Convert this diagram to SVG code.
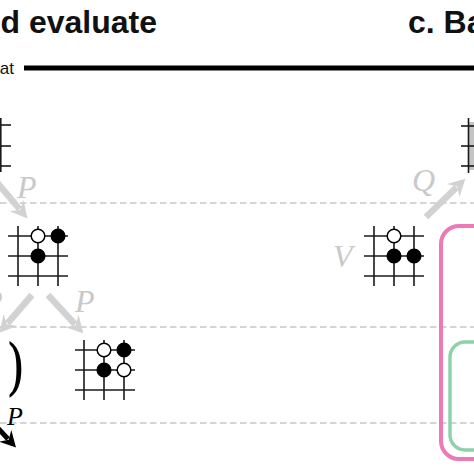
<svg xmlns="http://www.w3.org/2000/svg" width="474" height="474" viewBox="0 0 474 474">
<style>
.title{font-family:"Liberation Sans",Arial,sans-serif;font-weight:bold;font-size:32px;fill:#111}
.small{font-family:"Liberation Sans",Arial,sans-serif;font-size:17px;fill:#111}
.lbl{font-family:"Liberation Serif","Times New Roman",serif;font-style:italic;font-size:32px;fill:#c9c9c9}
.dash{stroke:#c8c8c8;stroke-width:1.5;stroke-dasharray:6.5 3.5;fill:none}
.grid line{stroke:#1a1a1a;stroke-width:1.6}
.b{fill:#000;stroke:#000;stroke-width:1.5}
.w{fill:#fff;stroke:#000;stroke-width:1.5}
.garrow{stroke:#d2d2d2;stroke-width:6.5;fill:none}
.karrow{stroke:#000;stroke-width:5;fill:none}
</style>
<defs>
<marker id="gh" markerUnits="userSpaceOnUse" viewBox="0 0 16 16" markerWidth="18" markerHeight="18" refX="4" refY="8" orient="auto">
<path d="M0,0 L15,8 L0,16 L5,8 z" fill="#d2d2d2"/>
</marker>
<marker id="kh" markerUnits="userSpaceOnUse" viewBox="0 0 16 16" markerWidth="17" markerHeight="17" refX="4" refY="8" orient="auto">
<path d="M0,0 L15,8 L0,16 L5,8 z" fill="#000"/>
</marker>
</defs>

<g id="titles">
<text class="title" x="157" y="33" text-anchor="end">d evaluate</text>
<text class="title" x="408" y="33">c. Ba</text>
<text class="small" x="14" y="74" text-anchor="end">at</text>
<line x1="24" y1="68" x2="474" y2="68" stroke="#000" stroke-width="5"/>
</g>

<g id="guides">
<line class="dash" x1="0" y1="203" x2="474" y2="203"/>
<line class="dash" x1="0" y1="327" x2="474" y2="327"/>
<line class="dash" x1="0" y1="423" x2="474" y2="423"/>
</g>

<g id="board-topleft" class="grid">
<line x1="0" y1="125" x2="11" y2="125"/>
<line x1="0" y1="146" x2="11" y2="146"/>
<line x1="0" y1="166" x2="11" y2="166"/>
<line x1="0.8" y1="118" x2="0.8" y2="172"/>
</g>

<g id="board-topright" class="grid">
<rect x="469" y="122" width="5" height="48" fill="#c4c4c4"/>
<line x1="461" y1="126" x2="474" y2="126"/>
<line x1="461" y1="146" x2="474" y2="146"/>
<line x1="461" y1="166" x2="474" y2="166"/>
<line x1="468.5" y1="118" x2="468.5" y2="173"/>
</g>

<g id="board-a" class="grid">
<line x1="8" y1="236" x2="68" y2="236"/>
<line x1="8" y1="256" x2="68" y2="256"/>
<line x1="8" y1="276" x2="68" y2="276"/>
<line x1="18" y1="226" x2="18" y2="286"/>
<line x1="38" y1="226" x2="38" y2="286"/>
<line x1="58" y1="226" x2="58" y2="286"/>
<circle class="w" cx="38" cy="236" r="6.8"/>
<circle class="b" cx="58" cy="236" r="6.8"/>
<circle class="b" cx="38" cy="256" r="6.8"/>
</g>

<g id="board-b" class="grid">
<line x1="75" y1="350" x2="135" y2="350"/>
<line x1="75" y1="370" x2="135" y2="370"/>
<line x1="75" y1="390" x2="135" y2="390"/>
<line x1="84" y1="340" x2="84" y2="400"/>
<line x1="104" y1="340" x2="104" y2="400"/>
<line x1="124" y1="340" x2="124" y2="400"/>
<circle class="w" cx="104" cy="350" r="6.8"/>
<circle class="b" cx="124" cy="350" r="6.8"/>
<circle class="b" cx="104" cy="370" r="6.8"/>
<circle class="w" cx="124" cy="370" r="6.8"/>
</g>

<g id="board-c" class="grid">
<line x1="364" y1="236" x2="424" y2="236"/>
<line x1="364" y1="256" x2="424" y2="256"/>
<line x1="364" y1="276" x2="424" y2="276"/>
<line x1="374" y1="226" x2="374" y2="286"/>
<line x1="394" y1="226" x2="394" y2="286"/>
<line x1="414" y1="226" x2="414" y2="286"/>
<circle class="w" cx="394" cy="236" r="6.8"/>
<circle class="b" cx="394" cy="256" r="6.8"/>
<circle class="b" cx="414" cy="256" r="6.8"/>
</g>

<g id="paren">
<text x="6" y="388" font-family="'DejaVu Serif','Liberation Serif',serif" font-weight="200" font-size="58" fill="#000" transform="translate(6 388) scale(0.85 1.05) translate(-6 -388)">)</text>
</g>

<g id="boxes">
<rect x="441" y="226" width="60" height="233" rx="18" fill="none" stroke="#ec7ab8" stroke-width="4"/>
<rect x="450" y="342" width="60" height="108" rx="15" fill="none" stroke="#8ed2ac" stroke-width="3.5"/>
</g>

<g id="connectors">
<line class="garrow" x1="-5" y1="180" x2="19.5" y2="209" marker-end="url(#gh)"/>
<line class="garrow" x1="32" y1="295" x2="7.5" y2="323.3" marker-end="url(#gh)"/>
<line class="garrow" x1="48" y1="295" x2="75" y2="324.3" marker-end="url(#gh)"/>
<line class="garrow" x1="426" y1="217" x2="456.5" y2="187.4" marker-end="url(#gh)"/>
<line class="karrow" x1="-6" y1="424" x2="8" y2="439" marker-end="url(#kh)"/>
</g>

<g id="labels">
<text class="lbl" x="17" y="198">P</text>
<text class="lbl" x="-17" y="312">P</text>
<text class="lbl" x="75" y="312">P</text>
<text class="lbl" x="412" y="191">Q</text>
<text class="lbl" x="333" y="267">V</text>
<text x="7" y="425" font-family="'Liberation Serif','Times New Roman',serif" font-style="italic" font-size="26" fill="#000">P</text>
</g>
</svg>
